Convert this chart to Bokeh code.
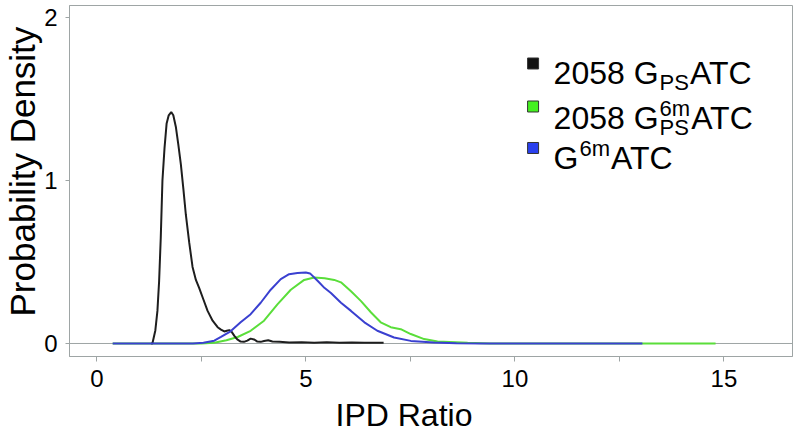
from bokeh.plotting import figure
from bokeh.models import Range1d, FixedTicker, Span, Title
from bokeh.core.properties import value
from bokeh.embed import file_html
from bokeh.resources import INLINE

# ---- data ----
black_x = [1.30, 1.33, 1.40, 1.45, 1.49, 1.53, 1.57, 1.62, 1.67, 1.72, 1.78, 1.83, 1.89, 1.95,
           2.01, 2.07, 2.13, 2.21, 2.29, 2.37, 2.45, 2.55, 2.65, 2.77, 2.89, 2.97, 3.05, 3.11,
           3.17, 3.23, 3.29, 3.36, 3.44, 3.52, 3.60, 3.68, 3.76, 3.84, 3.92, 4.00, 4.10, 4.20,
           4.37, 4.60, 4.90, 5.20, 5.50, 5.80, 6.10, 6.40, 6.86]
black_y = [0.0, 0.0, 0.08, 0.20, 0.38, 0.65, 1.00, 1.20, 1.35, 1.40, 1.42, 1.40, 1.33, 1.22,
           1.10, 0.95, 0.79, 0.62, 0.47, 0.39, 0.34, 0.27, 0.20, 0.14, 0.10, 0.085, 0.074, 0.078,
           0.082, 0.07, 0.047, 0.025, 0.012, 0.01, 0.018, 0.03, 0.025, 0.012, 0.01, 0.015, 0.02,
           0.012, 0.01, 0.006, 0.008, 0.005, 0.007, 0.004, 0.006, 0.004, 0.004]

green_x = [0.38, 2.50, 2.81, 3.10, 3.37, 3.68, 4.00, 4.32, 4.64, 4.96, 5.20, 5.45, 5.68, 5.84,
           6.08, 6.32, 6.56, 6.79, 7.03, 7.27, 7.51, 7.83, 8.15, 8.87, 9.40, 14.80]
green_y = [0.0, 0.0, 0.005, 0.02, 0.04, 0.078, 0.14, 0.24, 0.33, 0.39, 0.405, 0.40, 0.39, 0.375,
           0.32, 0.26, 0.19, 0.13, 0.10, 0.088, 0.058, 0.027, 0.012, 0.004, 0.0, 0.0]

blue_x = [0.38, 2.30, 2.55, 2.81, 2.97, 3.20, 3.44, 3.68, 3.92, 4.16, 4.40, 4.60, 4.80, 5.00,
          5.10, 5.28, 5.45, 5.60, 5.84, 6.08, 6.40, 6.71, 7.11, 7.51, 8.06, 8.60, 9.20, 13.05]
blue_y = [0.0, 0.0, 0.005, 0.017, 0.04, 0.075, 0.13, 0.18, 0.25, 0.33, 0.395, 0.425, 0.432, 0.436,
          0.43, 0.385, 0.34, 0.31, 0.25, 0.20, 0.13, 0.078, 0.037, 0.016, 0.006, 0.002, 0.0, 0.0]

x_ticks = [0, 5, 10, 15]
x_minor_ticks = [2.5, 7.5, 12.5]
y_ticks = [0, 1, 2]

# ---- figure ----
FONT = "Liberation Sans"
GRAY = "#9ea5a5"

X0, X1 = -0.653, 16.64
Y0, Y1 = -0.0798, 2.0736

p = figure(width=796, height=445, output_backend="svg", toolbar_location=None,
           x_range=Range1d(X0, X1), y_range=Range1d(Y0, Y1),
           min_border_left=69, min_border_right=4, min_border_top=5, min_border_bottom=89)
p.grid.visible = False
p.outline_line_color = GRAY
p.outline_line_width = 1
p.background_fill_color = "white"
p.border_fill_color = "white"

for ax in (p.xaxis[0], p.yaxis[0]):
    ax.axis_line_color = GRAY
    ax.major_tick_line_color = GRAY
    ax.minor_tick_line_color = GRAY
    ax.major_tick_in = 0
    ax.minor_tick_in = 0
    ax.major_label_text_font = FONT
    ax.major_label_text_font_size = "24px"
    ax.major_label_text_color = "black"

p.xaxis.ticker = FixedTicker(ticks=x_ticks, minor_ticks=x_minor_ticks)
p.xaxis.major_tick_out = 5
p.xaxis.minor_tick_out = 5
p.xaxis.major_label_standoff = 8

p.yaxis.ticker = FixedTicker(ticks=y_ticks, minor_ticks=[])
p.yaxis.major_tick_out = 4
p.yaxis.minor_tick_out = 0
p.yaxis.major_label_standoff = 8

# axis titles as side titles so they can sit off-centre like the reference
p.add_layout(Title(text="IPD Ratio", align="left", offset=266, standoff=10,
                   vertical_align="bottom", text_line_height=0.8,
                   text_font=FONT, text_font_size="32px", text_font_style="normal",
                   text_color="black"), "below")
p.add_layout(Title(text="Probability Density", align="left", offset=40, standoff=0,
                   text_font=FONT, text_font_size="35px", text_font_style="normal",
                   text_color="black"), "left")

p.add_layout(Span(location=0, dimension="width", line_color=GRAY, line_width=1, level="underlay"))

p.line(green_x, green_y, line_color="#5ade3a", line_width=2)
p.line(black_x, black_y, line_color="#1e1e1e", line_width=2)
p.line(blue_x, blue_y, line_color="#3a40d0", line_width=2)

# ---- legend drawn by hand (sub/superscripts) ----
PX_PER_X = 41.8
PX_PER_Y = 163.0
X_ZERO_PX = 96.3
Y_ZERO_PX = 343.0

def dx(px):
    return (px - X_ZERO_PX) / PX_PER_X

def dy(py):
    return (Y_ZERO_PX - py) / PX_PER_Y

ARIAL = {"0": 556, "2": 556, "5": 556, "8": 556, "6": 556, " ": 278, "G": 778, "A": 667,
         "T": 611, "C": 722, "P": 667, "S": 667, "m": 833}

def width(t, fs):
    return sum(ARIAL[c] for c in t) / 1000.0 * fs

F, FS = 32, 22
legend_colors = ["#111111", "#44f020", "#2a40ee"]
legend_square_y = [63, 106, 147.5]
p.scatter([dx(532.5)] * 3, [dy(v) for v in legend_square_y], marker="square", size=11,
          fill_color=legend_colors, line_color="#333333", line_width=1)

# rows: (main text, subscript, superscript, tail)
legend_rows = [("2058 G", "PS", "", "ATC"), ("2058 G", "PS", "6m", "ATC"), ("G", "", "6m", "ATC")]
row_baselines = [73, 118, 158]
x_start = 553
for (head, sub, sup, tail), base in zip(legend_rows, row_baselines):
    pieces = [(head, x_start, base, F)]
    xs = x_start + width(head, F) + 1
    if sub:
        pieces.append((sub, xs, base + 9, FS))
    if sup:
        pieces.append((sup, xs, base - 10, FS))
    xs += max(width(sub, FS), width(sup, FS)) + 1
    pieces.append((tail, xs, base, F))
    for t, px, py, fs in pieces:
        p.text([dx(px)], [dy(py)], text=[t], text_font=value(FONT), text_font_size=f"{fs}px",
               text_align="left", text_baseline="alphabetic", text_color="black")

open("out.html", "w").write(file_html(p, INLINE))
